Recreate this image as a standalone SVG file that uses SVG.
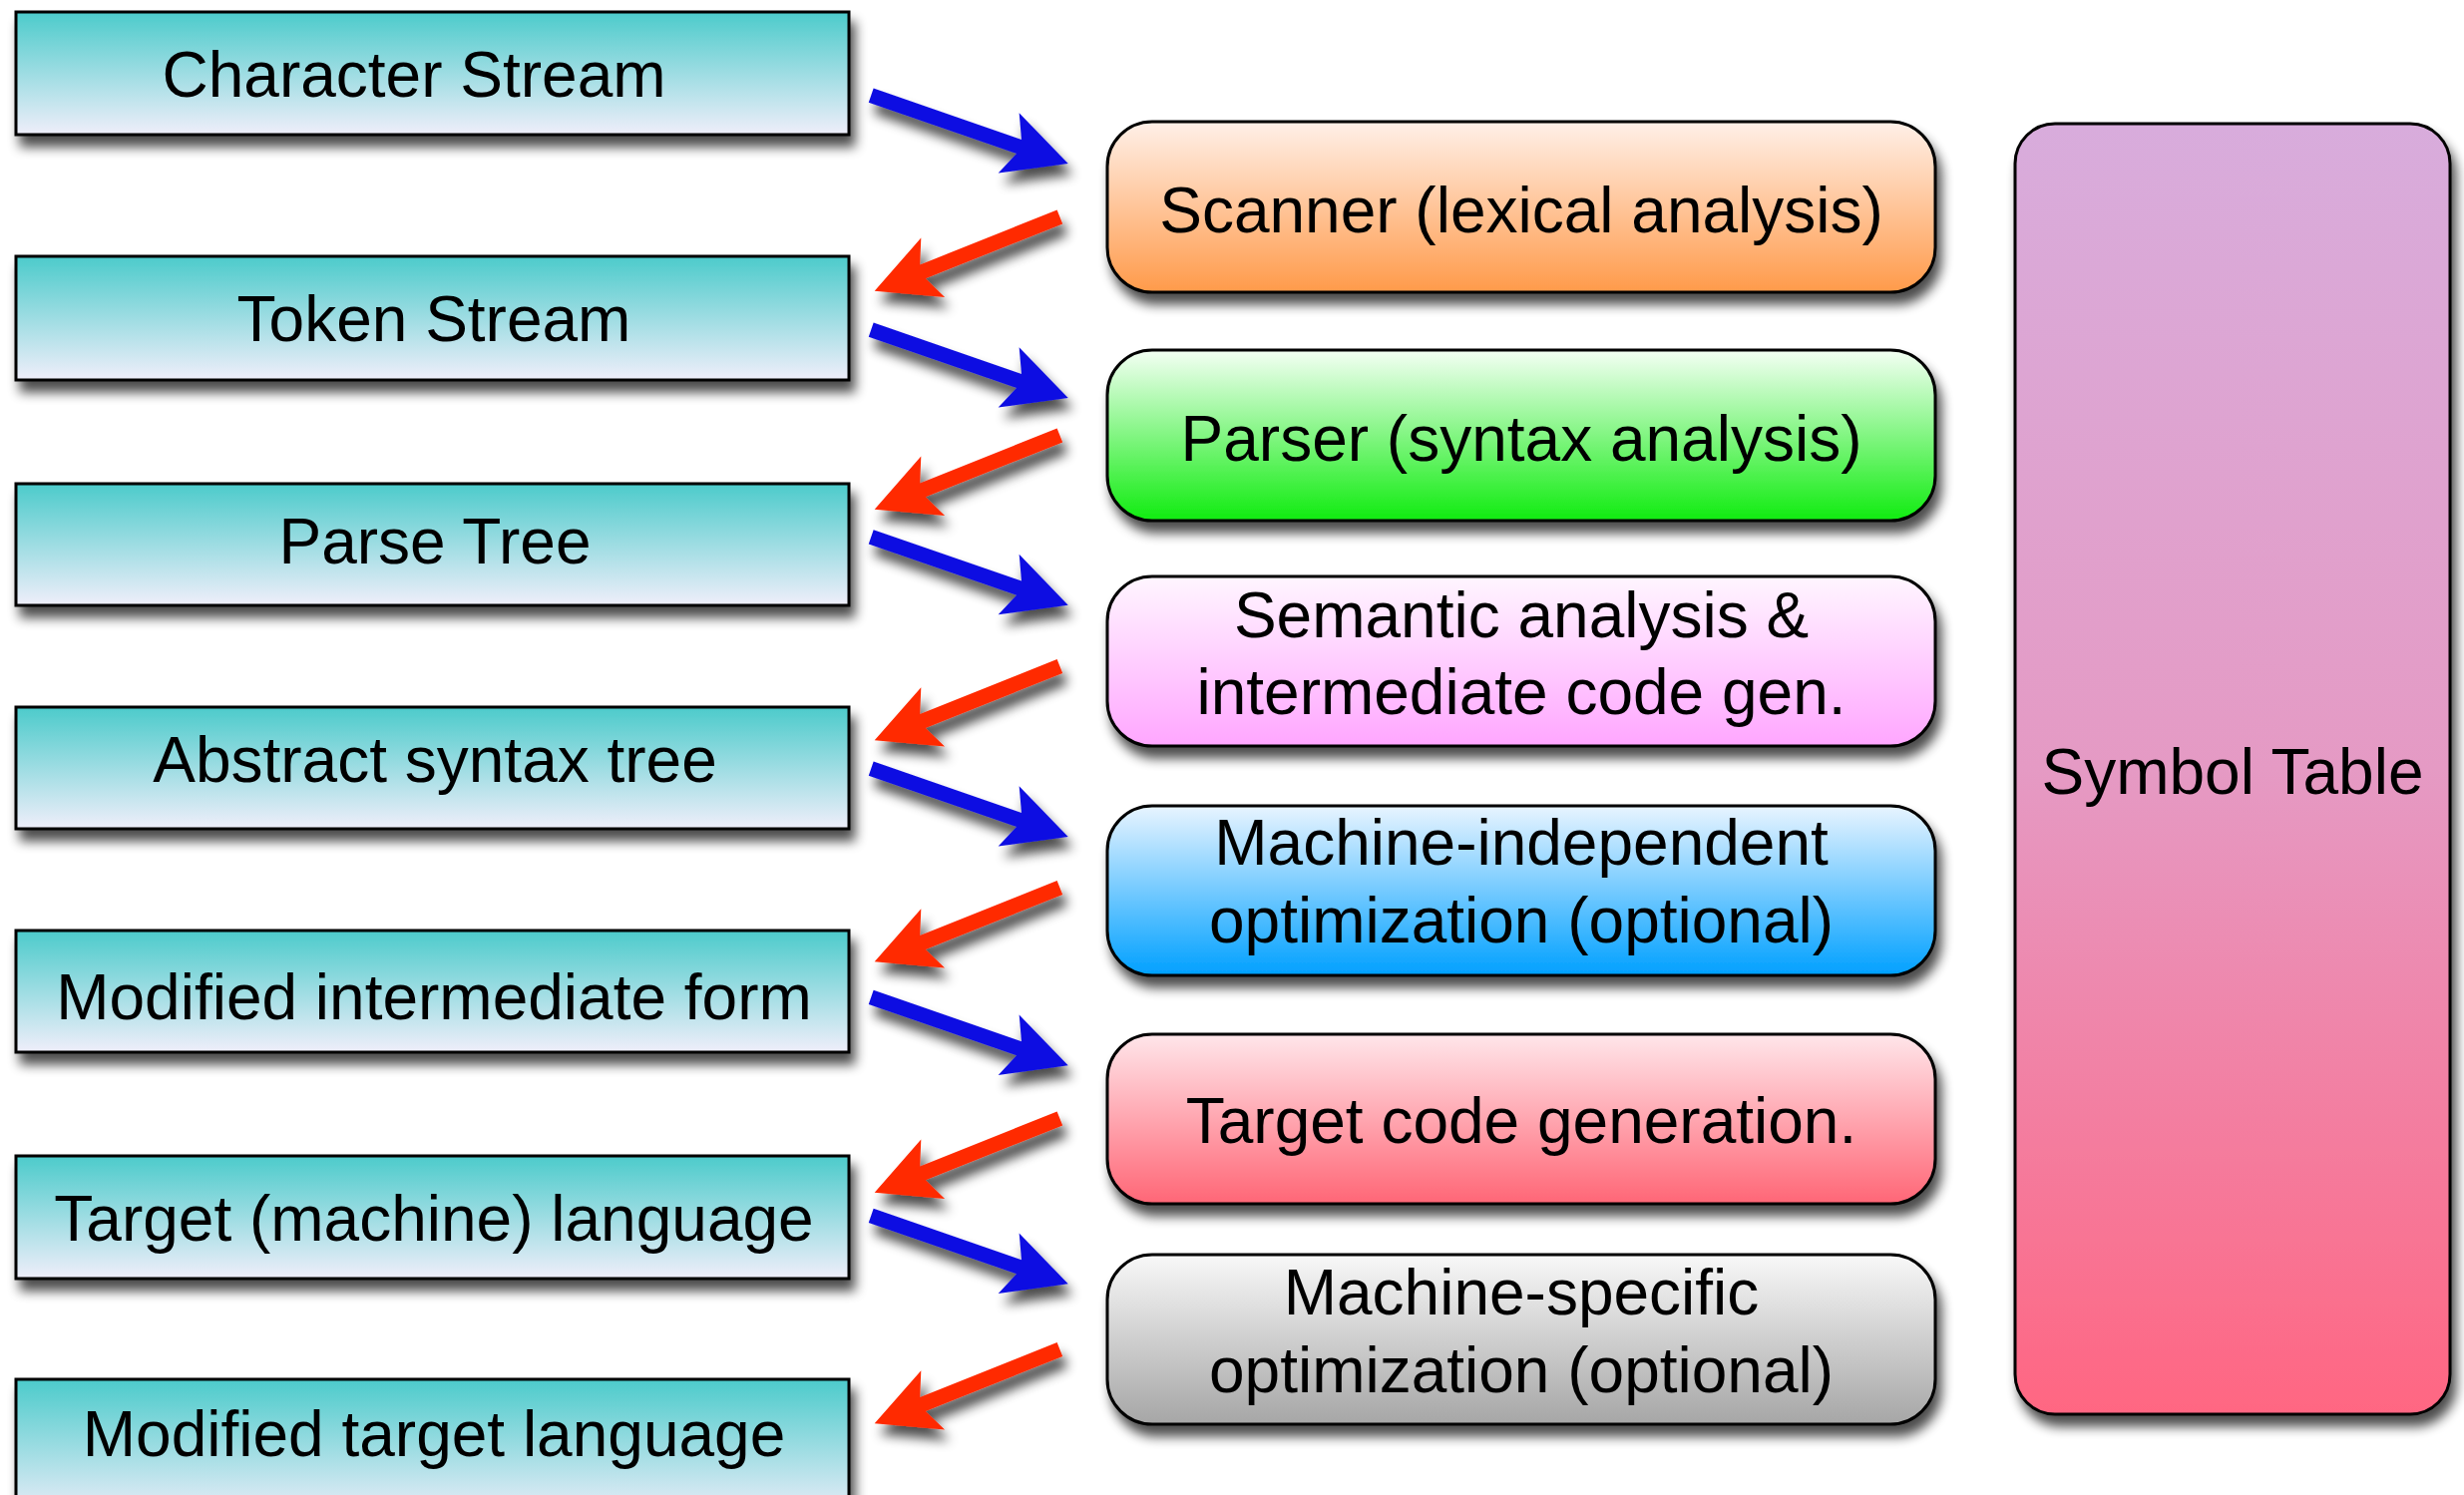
<svg xmlns="http://www.w3.org/2000/svg" width="2470" height="1499" viewBox="0 0 2470 1499">
  <defs>
    <style>
      .lbl { font-family: "Liberation Sans", Arial, Helvetica, sans-serif; font-size: 64px; fill: #000; text-anchor: middle; }
      .data { stroke: #000; stroke-width: 3; fill: url(#gTeal); }
      .phase { stroke: #000; stroke-width: 3; }
      .fwd { fill: #1010E2; }
      .back { fill: #FF2A00; }
    </style>
    <filter id="shadow" x="-10%" y="-10%" width="125%" height="140%">
      <feGaussianBlur in="SourceAlpha" stdDeviation="6"/>
      <feOffset dx="5" dy="11" result="off"/>
      <feComponentTransfer in="off" result="soft">
        <feFuncA type="linear" slope="0.7"/>
      </feComponentTransfer>
      <feMerge>
        <feMergeNode in="soft"/>
        <feMergeNode in="SourceGraphic"/>
      </feMerge>
    </filter>
    <linearGradient id="gTeal" x1="0" y1="0" x2="0" y2="1">
      <stop offset="0" stop-color="#4CCBCB"/>
      <stop offset="1" stop-color="#EFEEFA"/>
    </linearGradient>
    <linearGradient id="gOrange" x1="0" y1="0" x2="0" y2="1">
      <stop offset="0" stop-color="#FFF0E8"/>
      <stop offset="1" stop-color="#FF9A4A"/>
    </linearGradient>
    <linearGradient id="gGreen" x1="0" y1="0" x2="0" y2="1">
      <stop offset="0" stop-color="#F4FFF4"/>
      <stop offset="1" stop-color="#10EC10"/>
    </linearGradient>
    <linearGradient id="gPink" x1="0" y1="0" x2="0" y2="1">
      <stop offset="0" stop-color="#FFF6FF"/>
      <stop offset="1" stop-color="#FFA6FF"/>
    </linearGradient>
    <linearGradient id="gBlue" x1="0" y1="0" x2="0" y2="1">
      <stop offset="0" stop-color="#E8F4FF"/>
      <stop offset="1" stop-color="#00A0FF"/>
    </linearGradient>
    <linearGradient id="gRed" x1="0" y1="0" x2="0" y2="1">
      <stop offset="0" stop-color="#FFE6EA"/>
      <stop offset="1" stop-color="#FF6676"/>
    </linearGradient>
    <linearGradient id="gGray" x1="0" y1="0" x2="0" y2="1">
      <stop offset="0" stop-color="#F8F8F8"/>
      <stop offset="1" stop-color="#A6A6A6"/>
    </linearGradient>
    <linearGradient id="gSymbol" x1="0" y1="0" x2="0" y2="1">
      <stop offset="0" stop-color="#D8ACDC"/>
      <stop offset="0.5" stop-color="#E59AC4"/>
      <stop offset="1" stop-color="#FF6682"/>
    </linearGradient>
    <!-- block arrows drawn with the tip at the origin, pointing along +x -->
    <path id="arrowFwd" d="M-209,-7.5 L-52,-7.5 L-63,-32 L0,0 L-63,32 L-52,7.5 L-209,7.5 Z"/>
    <path id="arrowBack" d="M-200,-7.5 L-52,-7.5 L-63,-32 L0,0 L-63,32 L-52,7.5 L-200,7.5 Z"/>
  </defs>

  <rect width="2470" height="1499" fill="#FFFFFF"/>

  <!-- intermediate representations (left column) -->
  <g id="n-character-stream">
    <rect class="data" x="16" y="12" width="835" height="123" filter="url(#shadow)"/>
    <text class="lbl" x="415" y="97">Character Stream</text>
  </g>
  <g id="n-token-stream">
    <rect class="data" x="16" y="257" width="835" height="124" filter="url(#shadow)"/>
    <text class="lbl" x="435" y="342">Token Stream</text>
  </g>
  <g id="n-parse-tree">
    <rect class="data" x="16" y="485" width="835" height="122" filter="url(#shadow)"/>
    <text class="lbl" x="436" y="565">Parse Tree</text>
  </g>
  <g id="n-ast">
    <rect class="data" x="16" y="709" width="835" height="122" filter="url(#shadow)"/>
    <text class="lbl" x="436" y="784">Abstract syntax tree</text>
  </g>
  <g id="n-modified-ir">
    <rect class="data" x="16" y="933" width="835" height="122" filter="url(#shadow)"/>
    <text class="lbl" x="435" y="1022">Modified intermediate form</text>
  </g>
  <g id="n-target-language">
    <rect class="data" x="16" y="1159" width="835" height="123" filter="url(#shadow)"/>
    <text class="lbl" x="435" y="1244">Target (machine) language</text>
  </g>
  <g id="n-modified-target">
    <rect class="data" x="16" y="1383" width="835" height="140" filter="url(#shadow)"/>
    <text class="lbl" x="435" y="1460">Modified target language</text>
  </g>

  <!-- compiler phases (middle column) -->
  <g id="n-scanner">
    <rect class="phase" x="1110" y="122" width="830" height="171" rx="45" fill="url(#gOrange)" filter="url(#shadow)"/>
    <text class="lbl" x="1525" y="233">Scanner (lexical analysis)</text>
  </g>
  <g id="n-parser">
    <rect class="phase" x="1110" y="351" width="830" height="171" rx="45" fill="url(#gGreen)" filter="url(#shadow)"/>
    <text class="lbl" x="1525" y="462">Parser (syntax analysis)</text>
  </g>
  <g id="n-semantic">
    <rect class="phase" x="1110" y="578" width="830" height="170" rx="45" fill="url(#gPink)" filter="url(#shadow)"/>
    <text class="lbl" x="1525" y="639">Semantic analysis &amp;</text>
    <text class="lbl" x="1525" y="716">intermediate code gen.</text>
  </g>
  <g id="n-mi-opt">
    <rect class="phase" x="1110" y="808" width="830" height="170" rx="45" fill="url(#gBlue)" filter="url(#shadow)"/>
    <text class="lbl" x="1525" y="867">Machine-independent</text>
    <text class="lbl" x="1525" y="945">optimization (optional)</text>
  </g>
  <g id="n-codegen">
    <rect class="phase" x="1110" y="1037" width="830" height="170" rx="45" fill="url(#gRed)" filter="url(#shadow)"/>
    <text class="lbl" x="1525" y="1146">Target code generation.</text>
  </g>
  <g id="n-ms-opt">
    <rect class="phase" x="1110" y="1258" width="830" height="170" rx="45" fill="url(#gGray)" filter="url(#shadow)"/>
    <text class="lbl" x="1525" y="1318">Machine-specific</text>
    <text class="lbl" x="1525" y="1396">optimization (optional)</text>
  </g>

  <!-- symbol table (right column) -->
  <g id="n-symbol-table">
    <rect class="phase" x="2020" y="124" width="436" height="1294" rx="40" fill="url(#gSymbol)" filter="url(#shadow)"/>
    <text class="lbl" x="2238" y="796">Symbol Table</text>
  </g>

  <!-- data flow: blue into each phase, red back out to the next representation -->
  <g id="connectors" filter="url(#shadow)">
    <use href="#arrowFwd" class="fwd" transform="translate(1070.7,164) rotate(19.1)"/>
    <use href="#arrowBack" class="back" transform="translate(876.7,291.7) rotate(158.2)"/>
    <use href="#arrowFwd" class="fwd" transform="translate(1070.7,399) rotate(19.1)"/>
    <use href="#arrowBack" class="back" transform="translate(876.7,510.7) rotate(158.2)"/>
    <use href="#arrowFwd" class="fwd" transform="translate(1070.7,606.7) rotate(19.1)"/>
    <use href="#arrowBack" class="back" transform="translate(876.7,742.3) rotate(158.2)"/>
    <use href="#arrowFwd" class="fwd" transform="translate(1070.7,839) rotate(19.1)"/>
    <use href="#arrowBack" class="back" transform="translate(876.7,964.3) rotate(158.2)"/>
    <use href="#arrowFwd" class="fwd" transform="translate(1070.7,1068.3) rotate(19.1)"/>
    <use href="#arrowBack" class="back" transform="translate(876.7,1195.7) rotate(158.2)"/>
    <use href="#arrowFwd" class="fwd" transform="translate(1070.7,1287.3) rotate(19.1)"/>
    <use href="#arrowBack" class="back" transform="translate(876.7,1427.3) rotate(158.2)"/>
  </g>
</svg>
